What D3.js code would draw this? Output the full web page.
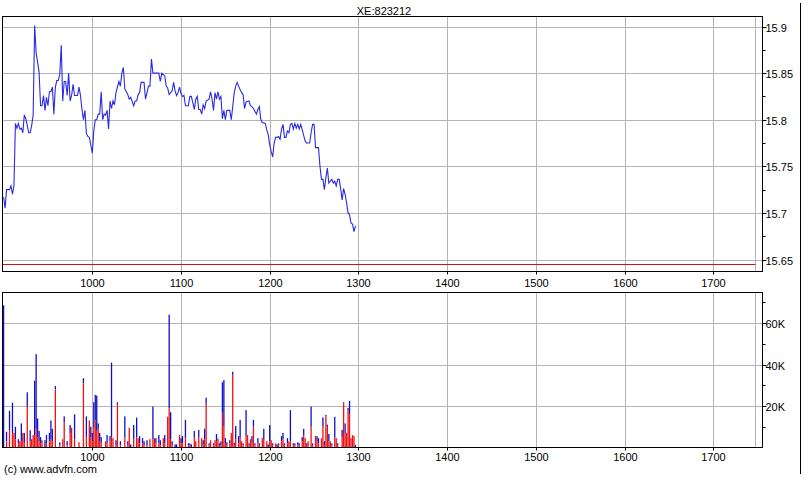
<!DOCTYPE html>
<html>
<head>
<meta charset="utf-8">
<script src="https://cdn.jsdelivr.net/npm/d3@7"></script>
<style>
  html, body { margin: 0; padding: 0; background: #fff; }
  svg { display: block; }
  text { font-family: "Liberation Sans", Arial, sans-serif; font-size: 11px; fill: #000; }
</style>
</head>
<body>
<svg id="chart" width="803" height="478"></svg>
<script>
// ---------------- DATA (times in HHMM) ----------------
const title = "XE:823212";
const credit = "(c) www.advfn.com";

const priceTimes = [900,901,902,904,905,906,907,908,909,910,911,912,913,914,915,916,917,918,919,920,921,922,924,925,926,927,928,929,930,931,932,933,934,935,936,937,938,939,940,941,942,943,944,945,946,947,948,949,950,951,952,953,954,955,956,957,958,
1000,1001,1002,1003,1004,1005,1006,1007,1008,1009,1010,1011,1012,1013,1014,1015,1016,1018,1019,1020,1021,1022,1024,1025,1026,1028,1029,1030,1031,1032,1033,1035,1036,1038,1039,1040,1041,1043,1045,1046,1047,1049,1050,1051,1052,1054,1055,1056,1057,1058,1059,
1100,1101,1102,1103,1105,1106,1107,1109,1110,1111,1112,1113,1114,1115,1116,1117,1119,1120,1121,1122,1123,1124,1125,1126,1127,1128,1129,1130,1131,1132,1133,1134,1135,1136,1137,1138,1140,1141,1142,1143,1144,1146,1147,1148,1149,1150,1151,1152,1153,1154,1155,1157,1158,1159,
1200,1201,1202,1203,1204,1205,1206,1207,1208,1209,1210,1211,1212,1213,1214,1215,1216,1217,1218,1219,1220,1221,1222,1223,1224,1225,1227,1228,1229,1230,1231,1233,1234,1235,1236,1237,1238,1239,1240,1241,1242,1243,1244,1245,1246,1247,1248,1249,1250,1251,1252,1253,1254,1255,1256,1257,1258];

const priceValues = [15.717,15.705,15.725,15.725,15.729,15.720,15.729,15.796,15.791,15.796,15.790,15.791,15.786,15.805,15.801,15.794,15.786,15.786,15.794,15.805,15.901,15.872,15.851,15.815,15.815,15.826,15.810,15.824,15.815,15.830,15.830,15.835,15.806,15.835,15.842,15.842,15.849,15.880,15.820,15.841,15.841,15.826,15.850,15.820,15.826,15.838,15.826,15.826,15.826,15.835,15.826,15.811,15.800,15.810,15.785,15.782,15.781,
15.764,15.788,15.800,15.800,15.806,15.806,15.830,15.800,15.806,15.805,15.810,15.790,15.820,15.812,15.820,15.816,15.829,15.841,15.836,15.850,15.856,15.833,15.827,15.822,15.824,15.815,15.820,15.820,15.827,15.829,15.840,15.840,15.822,15.836,15.836,15.865,15.850,15.850,15.850,15.841,15.850,15.847,15.836,15.834,15.827,15.831,15.840,15.831,15.826,15.829,15.835,
15.828,15.825,15.826,15.815,15.815,15.825,15.825,15.811,15.822,15.825,15.811,15.811,15.806,15.816,15.812,15.820,15.822,15.830,15.822,15.810,15.829,15.822,15.830,15.822,15.825,15.801,15.810,15.800,15.810,15.810,15.810,15.800,15.814,15.829,15.836,15.840,15.832,15.829,15.827,15.812,15.819,15.820,15.815,15.814,15.812,15.809,15.806,15.811,15.814,15.800,15.797,15.796,15.789,15.784,
15.773,15.766,15.760,15.775,15.781,15.781,15.782,15.779,15.790,15.795,15.781,15.781,15.788,15.786,15.795,15.796,15.790,15.796,15.791,15.795,15.790,15.795,15.789,15.783,15.777,15.775,15.775,15.786,15.795,15.795,15.770,15.770,15.750,15.736,15.736,15.725,15.738,15.748,15.732,15.734,15.736,15.732,15.734,15.729,15.736,15.736,15.726,15.714,15.726,15.720,15.711,15.700,15.698,15.689,15.688,15.680,15.686];

const referenceLevel = 15.6455;

const volumeTimes = [900,902,904,906,907,908,910,911,912,913,914,916,918,919,920,921,922,923,924,925,926,928,929,931,932,933,935,938,940,941,943,945,946,948,951,954,956,958,959,
1000,1001,1002,1003,1004,1005,1006,1009,1010,1012,1013,1014,1016,1017,1019,1022,1024,1025,1026,1028,1030,1031,1032,1034,1035,1037,1039,1041,1042,1043,1045,1046,1048,1049,1051,1052,1053,1054,1056,1057,1059,
1100,1101,1103,1105,1106,1107,1109,1110,1112,1114,1115,1116,1117,1119,1120,1122,1123,1124,1125,1126,1127,1128,1129,1130,1131,1133,1134,1135,1136,1137,1139,1140,1141,1142,1144,1145,1146,1147,1148,1149,1150,1152,1153,1155,1156,1158,1159,
1200,1201,1202,1204,1205,1206,1208,1209,1210,1212,1213,1214,1216,1217,1219,1220,1222,1223,1224,1225,1226,1228,1229,1231,1232,1233,1235,1236,1237,1238,1239,1240,1241,1242,1244,1245,1246,1249,1250,1251,1252,1253,1254,1255,1256,1257,1258];

const volumeTotal = [68.5,7.6,17.7,21.6,7,10,4,3,11.6,7,7,26.6,8.3,4,6,32.2,45,14,8,5,3.5,3.5,6,7,13,9,29.6,2.5,4,15,3,10.8,9.5,16,2.5,33.4,15,13,10,
7,21.8,25.3,25,11.6,7,5,3,6,5.5,40.9,4.5,3.5,21.8,3,15,3,9.5,1.5,10.8,14.4,4.5,5.5,4.5,3,3.5,4,19.7,4.5,4.5,6,3.5,4.5,6,14.8,64,17,3,1.5,1.5,6,
4.5,5.5,13.3,2,2,1.5,8,3,8.5,4.5,3.5,9,24,2,3.5,2,3.5,6.5,4.3,2,3,31.4,32.5,4.5,2.5,3.5,7,36.5,2.3,10.4,5.5,13.3,3,2,18,6,2,4,5.5,13.3,2,4.5,2,4.5,9,3,1.5,
10.8,3.5,2,2,1.5,2,5.5,7,2,4.5,3,18,2,2,2.5,2,5,9,4.5,2,3,19.7,2,5.5,5.5,4.5,4.5,14.5,3,15.7,11,6.5,3,2,14.8,4.5,2,8.5,21.8,11.6,7,19,22.5,4.5,6,5.5,1.3];

const volumeRed = [0,3,8.4,7,7,4,2,3,3,7,2,19.6,3,4,6,6,9,5,3,2,3.5,0,2,3,4,3,28,1,4,12,1,7,9.5,4,2.5,31,5,12.4,5,
3,9.5,13,8,9,3,2,3,2,3,5,4.5,1,21,1,5,1,9.5,0,4,5,4.5,2,2,1,1,4,4,4.5,2,2,1,4.5,2,14.8,18.9,4,1,0,0,6,
2,2,4.5,1,1,0,5,3,5,4.5,1,4,21,1,3.5,1,3.5,3,4.3,1,1,16.5,10,2,1,2,7,35,1,4,2,5,3,1,5.5,6,1,4,2,10,1,2,1,4.5,4,3,0,
3,3.5,1,2,0,1,3,4,1,2,3,3,1,1,1,1,3,6,4.5,1,3,10,1,5.5,3,2,4.5,10,1,15,10,3,3,1,5,4.5,1,5,21.3,7,7,18,16,4.5,6,5.5,0];

const hourTicks = [1000,1100,1200,1300,1400,1500,1600,1700];
const sessionEnd = 1728;
const priceTicks = [15.65,15.7,15.75,15.8,15.85,15.9];
const priceMinorTicks = [15.675,15.725,15.775,15.825,15.875];
const volumeTicks = [20,40,60];           // thousands
const volumeMinorTicks = [10,30,50,70];

// ---------------- LAYOUT ----------------
const toMin = t => Math.floor(t / 100) * 60 + t % 100;
const svg = d3.select("#chart");
const left = 2.5, right = 762.5;
const top1 = 16.5, bottom1 = 271.5;
const top2 = 292.5, bottom2 = 447.5;

const x = d3.scaleLinear().domain([toMin(900), toMin(1733)]).range([3.6, 762]);
const yP = d3.scaleLinear().domain([15.65, 15.9]).range([259.5, 26.5]);
const yV = d3.scaleLinear().domain([0, 60]).range([447.5, 323]);

const gridColor = "#b4b4b4";

function grid(top, bottom, yScale, yTicks) {
  const g = svg.append("g");
  [...hourTicks, sessionEnd].forEach(t => {
    const xx = Math.round(x(toMin(t))) + 0.5;
    g.append("line").attr("x1", xx).attr("x2", xx).attr("y1", top).attr("y2", bottom)
      .attr("stroke", gridColor).attr("stroke-width", 1);
  });
  yTicks.forEach(v => {
    const yy = Math.round(yScale(v)) + 0.5;
    g.append("line").attr("x1", left).attr("x2", right).attr("y1", yy).attr("y2", yy)
      .attr("stroke", gridColor).attr("stroke-width", 1);
  });
}
grid(top1, bottom1, yP, priceTicks);
grid(top2, bottom2, yV, volumeTicks);

// reference level line
svg.append("line")
  .attr("x1", left).attr("x2", Math.round(x(toMin(sessionEnd))) + 0.5)
  .attr("y1", Math.round(yP(referenceLevel)) + 0.5).attr("y2", Math.round(yP(referenceLevel)) + 0.5)
  .attr("stroke", "#d01010").attr("stroke-width", 1);

// price line
const priceData = priceTimes.map((t, i) => ({ t: toMin(t), v: priceValues[i] }));
svg.append("path")
  .datum(priceData)
  .attr("fill", "none")
  .attr("stroke", "#2a2ae0")
  .attr("stroke-width", 1.1)
  .attr("d", d3.line().x(d => x(d.t)).y(d => yP(d.v)));

// volume bars (red base, blue on top)
const volData = volumeTimes.map((t, i) => ({ t: toMin(t), total: volumeTotal[i], red: volumeRed[i] }));
const bw = 1.3;
svg.append("g").selectAll("rect").data(volData).join("rect")
  .attr("x", d => x(d.t) - bw / 2).attr("width", bw)
  .attr("y", d => yV(d.total)).attr("height", d => yV(d.red) - yV(d.total))
  .attr("fill", "#1010c8");
svg.append("g").selectAll("rect").data(volData).join("rect")
  .attr("x", d => x(d.t) - bw / 2).attr("width", bw)
  .attr("y", d => yV(d.red)).attr("height", d => yV(0) - yV(d.red))
  .attr("fill", "#ee1111");

// panel frames
[[top1, bottom1], [top2, bottom2]].forEach(([t, b]) => {
  svg.append("rect").attr("x", left).attr("y", t).attr("width", right - left).attr("height", b - t)
    .attr("fill", "none").attr("stroke", "#000").attr("stroke-width", 1);
});

// right axes
function rightAxis(yScale, major, minor, fmt) {
  const g = svg.append("g");
  major.forEach(v => {
    const yy = Math.round(yScale(v)) + 0.5;
    g.append("line").attr("x1", right).attr("x2", right + 4).attr("y1", yy).attr("y2", yy).attr("stroke", "#000");
    g.append("text").attr("x", right + 3).attr("y", yy + 4).text(fmt(v));
  });
  minor.forEach(v => {
    const yy = Math.round(yScale(v)) + 0.5;
    g.append("line").attr("x1", right).attr("x2", right + 3).attr("y1", yy).attr("y2", yy).attr("stroke", "#000");
  });
}
rightAxis(yP, priceTicks, priceMinorTicks, v => String(+v.toFixed(2)));
rightAxis(yV, volumeTicks, volumeMinorTicks, v => v + "K");

// x labels
function xLabels(yBase, tickY) {
  hourTicks.forEach(t => {
    const xx = Math.round(x(toMin(t))) + 0.5;
    svg.append("text").attr("x", xx).attr("y", yBase).attr("text-anchor", "middle").text(String(t));
    svg.append("line").attr("x1", xx).attr("x2", xx).attr("y1", tickY).attr("y2", tickY + 3).attr("stroke", "#000");
  });
}
xLabels(287, bottom1);
xLabels(461, bottom2);

svg.append("text").attr("x", 384).attr("y", 15).attr("text-anchor", "middle").text(title);
svg.append("text").attr("x", 4).attr("y", 473).text(credit);
svg.append("line").attr("x1", 800.5).attr("x2", 800.5).attr("y1", 3).attr("y2", 474).attr("stroke", "#000");
</script>
</body>
</html>
